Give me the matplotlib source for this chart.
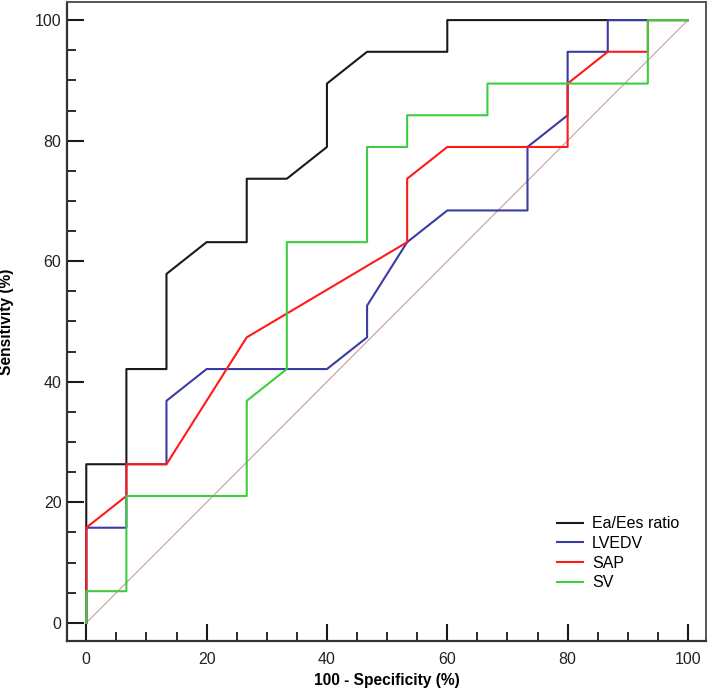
import matplotlib
matplotlib.use("Agg")
import matplotlib.pyplot as plt
from matplotlib.ticker import MultipleLocator

plt.rcParams['font.family'] = ['Liberation Sans', 'DejaVu Sans']

# ROC data (100 - specificity, sensitivity), in %
ratio_x = [0, 0, 6.67, 6.67, 13.33, 13.33, 20, 26.67, 26.67, 33.33, 40, 40, 46.67, 60, 60, 100]
ratio_y = [0, 26.32, 26.32, 42.11, 42.11, 57.89, 63.16, 63.16, 73.68, 73.68, 78.95, 89.47, 94.74, 94.74, 100, 100]

lvedv_x = [0, 0, 6.67, 6.67, 13.33, 13.33, 20, 40, 46.67, 46.67, 53.33, 60, 73.33, 73.33, 80, 80, 86.67, 86.67, 100]
lvedv_y = [0, 15.79, 15.79, 26.32, 26.32, 36.84, 42.11, 42.11, 47.37, 52.63, 63.16, 68.42, 68.42, 78.95, 84.21, 94.74, 94.74, 100, 100]

sap_x = [0, 0, 6.67, 6.67, 13.33, 26.67, 53.33, 53.33, 60, 80, 80, 86.67, 93.33, 93.33, 100]
sap_y = [0, 15.79, 21.05, 26.32, 26.32, 47.37, 63.16, 73.68, 78.95, 78.95, 89.47, 94.74, 94.74, 100, 100]

sv_x = [0, 0, 6.67, 6.67, 26.67, 26.67, 33.33, 33.33, 46.67, 46.67, 53.33, 53.33, 66.67, 66.67, 93.33, 93.33, 100]
sv_y = [0, 5.26, 5.26, 21.05, 21.05, 36.84, 42.11, 63.16, 63.16, 78.95, 78.95, 84.21, 84.21, 89.47, 89.47, 100, 100]

labels = ["Ea/Ees ratio", "LVEDV", "SAP", "SV"]
colors = ["#1a1a1a", "#3b3ba6", "#ff1a1a", "#40cc40"]
ref_line = [0, 100]

fig = plt.figure(figsize=(7.09, 6.89), dpi=100)
ax = fig.add_axes([0.0945, 0.0697, 0.9013, 0.9274])

# chance diagonal
ax.plot(ref_line, ref_line, color="#d09a9a", lw=0.8, zorder=1)

series = [(ratio_x, ratio_y), (lvedv_x, lvedv_y), (sap_x, sap_y), (sv_x, sv_y)]
for (xs, ys), lab, col in zip(series, labels, colors):
    ax.plot(xs, ys, color=col, lw=1.5, label=lab, zorder=2)

ax.set_xlim(-3.2, 103)
ax.set_ylim(-3, 103)

ax.xaxis.set_major_locator(MultipleLocator(20))
ax.xaxis.set_minor_locator(MultipleLocator(5))
ax.yaxis.set_major_locator(MultipleLocator(20))
ax.yaxis.set_minor_locator(MultipleLocator(5))
ax.tick_params(which='major', direction='in', length=12, width=1.5, labelsize=11.5)
ax.tick_params(which='minor', direction='in', length=6.5, width=1.3)
ax.tick_params(axis='x', which='major', pad=8)
ax.tick_params(axis='y', which='major', pad=4)
ax.tick_params(which='both', colors='#1a1a1a', labelcolor='#222222')

for side in ['left', 'bottom']:
    ax.spines[side].set_linewidth(1.6)
    ax.spines[side].set_color('#333333')
for side in ['top', 'right']:
    ax.spines[side].set_linewidth(1.4)
    ax.spines[side].set_color('#555555')

ax.set_xlabel("100 - Specificity (%)", fontsize=11.2, fontweight='bold')
ax.set_ylabel("Sensitivity (%)", fontsize=11.2, fontweight='bold')
ax.xaxis.set_label_coords(0.5, -0.050)
ax.yaxis.set_label_coords(-0.083, 0.5)

ax.legend(loc='upper left', bbox_to_anchor=(0.767, 0.195), frameon=False,
          fontsize=11.5, handlelength=1.63, handletextpad=0.55, labelspacing=0.29,
          borderpad=0, borderaxespad=0)

fig.savefig("out.png", dpi=100)
